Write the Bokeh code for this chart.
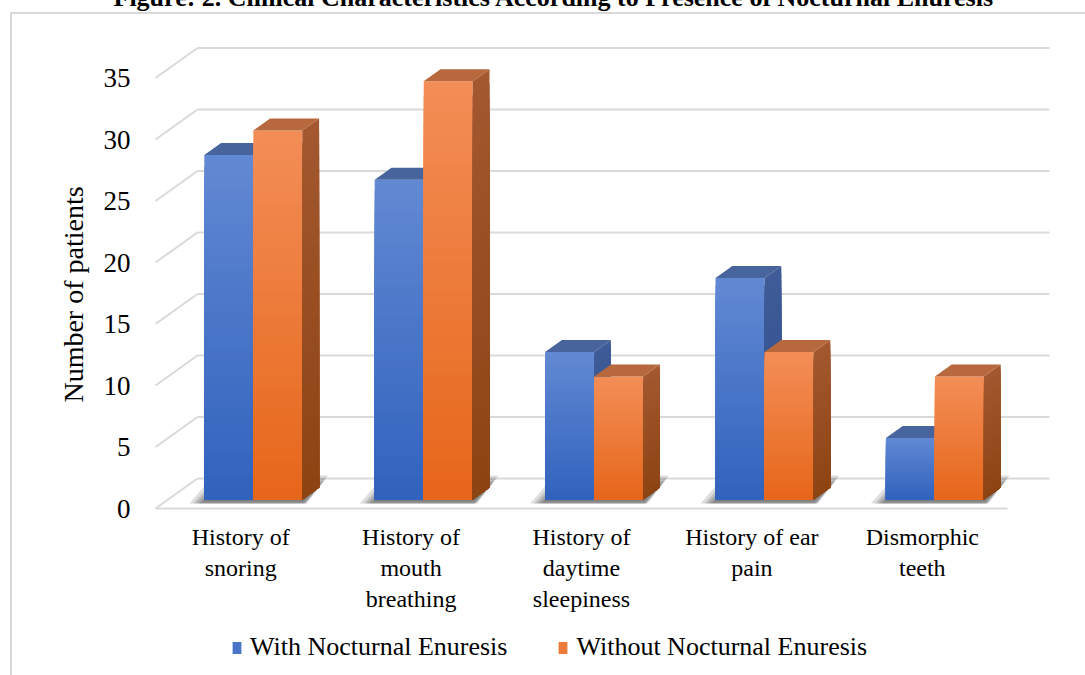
import numpy as np
from bokeh.plotting import figure
from bokeh.layouts import column
from bokeh.models import (Range1d, FixedTicker, Legend, LegendItem)
from bokeh.embed import file_html
from bokeh.resources import INLINE

# ---------------- data ----------------
categories = ["History of\nsnoring", "History of\nmouth\nbreathing",
              "History of\ndaytime\nsleepiness", "History of ear\npain",
              "Dismorphic\nteeth"]
with_ne = [28, 26, 12, 18, 5]
without_ne = [30, 34, 10, 12, 10]
series_names = ["With Nocturnal Enuresis", "Without Nocturnal Enuresis"]
y_ticks = [0, 5, 10, 15, 20, 25, 30, 35]
title_text = "Figure: 2. Clinical Characteristics According to Presence of Nocturnal Enuresis"

# ---------------- layout ----------------
S = 60                                   # hidden strip above the page (for the cut title)
FL, FR, FT, FB = 150, 1055, 40, 548      # frame edges in page px
BOT = 70                                 # bottom panel of the chart (x labels)
LEG_H = 675 - (FB + BOT)                 # height of the legend strip
X0PX, UX = 155, 170.4                    # front-plane origin / px per category
Y0PX, UY = 508, 12.3                     # front-plane zero / px per unit
DX, DY = 42 / UX, 30 / UY                # full depth of the 3D box (data units)
F0, F1 = 0.3, 0.7                        # bar depth span (fraction)
BW = 49 / UX                             # bar width
NS = 30                                  # gradient slices

SERIF = "Liberation Serif"

p = figure(frame_width=FR - FL, frame_height=FB - FT,
           output_backend="svg", toolbar_location=None,
           x_range=Range1d((FL - X0PX) / UX, (FR - X0PX) / UX),
           y_range=Range1d((Y0PX - FB) / UY, (Y0PX - FT) / UY),
           min_border_left=FL, min_border_right=1085 - FR,
           min_border_top=FT + S, min_border_bottom=BOT)
p.margin = (-S, 0, 0, 0)
p.xgrid.visible = False
p.ygrid.visible = False
p.outline_line_color = None
p.background_fill_alpha = 0
p.border_fill_alpha = 0

# title (partly hidden above the page like the reference)
p.title.text = title_text
p.title.text_font = SERIF
p.title.text_font_style = "bold"
p.title.text_font_size = "26px"
p.title.text_color = "black"
p.title.align = "left"
p.title.offset = 113 - FL
p.title.standoff = 58

# faint outer frame of the figure image (CSS on the host element)
p.styles = {
    "box-shadow": f"inset 10px {12 + S}px 0 0 white, inset 12px {14 + S}px 0 0 #d9d9d9",
}

ncat = len(categories)

# ---------------- walls / gridlines ----------------
gx0 = [0.0] * len(y_ticks)
gy0 = [float(v) for v in y_ticks]
gx1 = [DX] * len(y_ticks)
gy1 = [v + DY for v in y_ticks]
p.segment(x0=gx0, y0=gy0, x1=gx1, y1=gy1, line_color="#d9d9d9", line_width=2)
p.segment(x0=gx1, y0=gy1, x1=[ncat + DX] * len(y_ticks), y1=gy1,
          line_color="#d9d9d9", line_width=2)
p.segment(x0=[0.0], y0=[0.0], x1=[float(ncat)], y1=[0.0],
          line_color="#d9d9d9", line_width=2)

# ---------------- helpers ----------------
def hex2rgb(h):
    h = h.lstrip("#")
    return [int(h[i:i + 2], 16) for i in (0, 2, 4)]

def mix(c_bottom, c_top, t):
    a, b = hex2rgb(c_bottom), hex2rgb(c_top)
    return "#%02x%02x%02x" % tuple(int(round(a[j] + (b[j] - a[j]) * t)) for j in range(3))

palettes = [
    dict(front=("#3062bd", "#6289d3"), top="#47649d", side=("#2c4d8c", "#3f5c98")),
    dict(front=("#e6661a", "#f38e57"), top="#b7683c", side=("#8d4413", "#a3582f")),
]

# ---------------- soft floor shadows ----------------
sh_xs, sh_ys = [], []
for i in range(ncat):
    xl = i + 0.5 - BW
    xr = i + 0.5 + BW
    for g in (2, 5, 8, 11, 15):
        ex = g / UX
        eyb = min(g, 4) / UY
        eyt = g * 0.8 / UY
        sh_xs.append([xl + F0 * DX - ex, xr + F0 * DX + ex * 0.3,
                      xr + F1 * DX + ex * 0.6, xl + F1 * DX - ex * 0.5])
        sh_ys.append([F0 * DY - eyb, F0 * DY - eyb, F1 * DY + eyt, F1 * DY + eyt])
p.patches(xs=sh_xs, ys=sh_ys, fill_color="black", fill_alpha=0.13, line_color=None)

# ---------------- bars ----------------
series_values = [with_ne, without_ne]
for s, vals in enumerate(series_values):
    pal = palettes[s]
    fl, fr, fb, ft, fc = [], [], [], [], []
    tx, ty = [], []
    sx, sy, sc = [], [], []
    for i, v in enumerate(vals):
        xl = i + 0.5 - BW + s * BW
        xr = xl + BW
        for k in range(NS - 1, -1, -1):
            t = (k + 0.5) / NS
            hk = v * (k + 1) / NS
            fl.append(xl + F0 * DX); fr.append(xr + F0 * DX)
            fb.append(F0 * DY); ft.append(F0 * DY + hk)
            fc.append(mix(pal["front"][0], pal["front"][1], t))
            sx.append([xr + F0 * DX, xr + F1 * DX, xr + F1 * DX, xr + F0 * DX])
            sy.append([F0 * DY, F1 * DY, F1 * DY + hk, F0 * DY + hk])
            sc.append(mix(pal["side"][0], pal["side"][1], t))
        tx.append([xl + F0 * DX, xr + F0 * DX, xr + F1 * DX, xl + F1 * DX])
        ty.append([v + F0 * DY, v + F0 * DY, v + F1 * DY, v + F1 * DY])
    p.quad(left=fl, right=fr, bottom=fb, top=ft, fill_color=fc, line_color=None)
    p.patches(xs=sx, ys=sy, fill_color=sc, line_color=None)
    p.patches(xs=tx, ys=ty, fill_color=pal["top"], line_color=None)

# ---------------- axes ----------------
p.yaxis.ticker = FixedTicker(ticks=y_ticks)
p.yaxis.axis_line_color = None
p.yaxis.major_tick_line_color = None
p.yaxis.minor_tick_line_color = None
p.yaxis.major_tick_out = 0
p.yaxis.major_label_standoff = 20
p.yaxis.major_label_text_font = SERIF
p.yaxis.major_label_text_font_size = "27px"
p.yaxis.major_label_text_color = "black"
p.yaxis.axis_label = "Number of patients"
p.yaxis.axis_label_text_font = SERIF
p.yaxis.axis_label_text_font_size = "28px"
p.yaxis.axis_label_text_font_style = "normal"
p.yaxis.axis_label_text_color = "black"
p.yaxis.axis_label_standoff = 12

xt = [i + 0.5 for i in range(ncat)]
p.xaxis.ticker = FixedTicker(ticks=xt)
p.xaxis.major_label_overrides = {x: c for x, c in zip(xt, categories)}
p.xaxis.axis_line_color = None
p.xaxis.major_tick_line_color = None
p.xaxis.minor_tick_line_color = None
p.xaxis.major_tick_out = 0
p.xaxis.major_label_standoff = 523 - FB
p.xaxis.major_label_text_font = SERIF
p.xaxis.major_label_text_font_size = "24px"
p.xaxis.major_label_text_color = "black"

# ---------------- legend strip (own small figure under the chart) ----------------
# its y range sits below 0, so the series bars drawn here stay out of view and
# only serve the legend swatches
pl = figure(width=1085, height=LEG_H, output_backend="svg", toolbar_location=None,
            x_axis_type=None, y_axis_type=None, min_border=0,
            x_range=Range1d(0, 1), y_range=Range1d(-2, -1))
pl.outline_line_color = None
pl.background_fill_alpha = 0
pl.border_fill_alpha = 0
pl.styles = {"box-shadow": "inset 10px 0 0 0 white, inset 12px 0 0 0 #d9d9d9"}
items = []
for s, vals in enumerate(series_values):
    pal = palettes[s]
    r = pl.quad(left=[float(i) for i in range(ncat)],
                right=[i + 0.5 for i in range(ncat)],
                bottom=[0.0] * ncat, top=vals,
                fill_color=mix(pal["front"][0], pal["front"][1], 0.5), line_color=None)
    items.append(LegendItem(label=series_names[s], renderers=[r]))
legend = Legend(items=items, orientation="horizontal",
                location=(231 - FL, 13),
                label_text_font=SERIF, label_text_font_size="26px",
                label_text_color="black", glyph_width=11, glyph_height=15,
                label_standoff=8, spacing=50, padding=4, margin=0,
                border_line_color=None, background_fill_alpha=0)
pl.add_layout(legend)

layout = column(p, pl, spacing=0)
open("out.html", "w").write(file_html(layout, INLINE))
